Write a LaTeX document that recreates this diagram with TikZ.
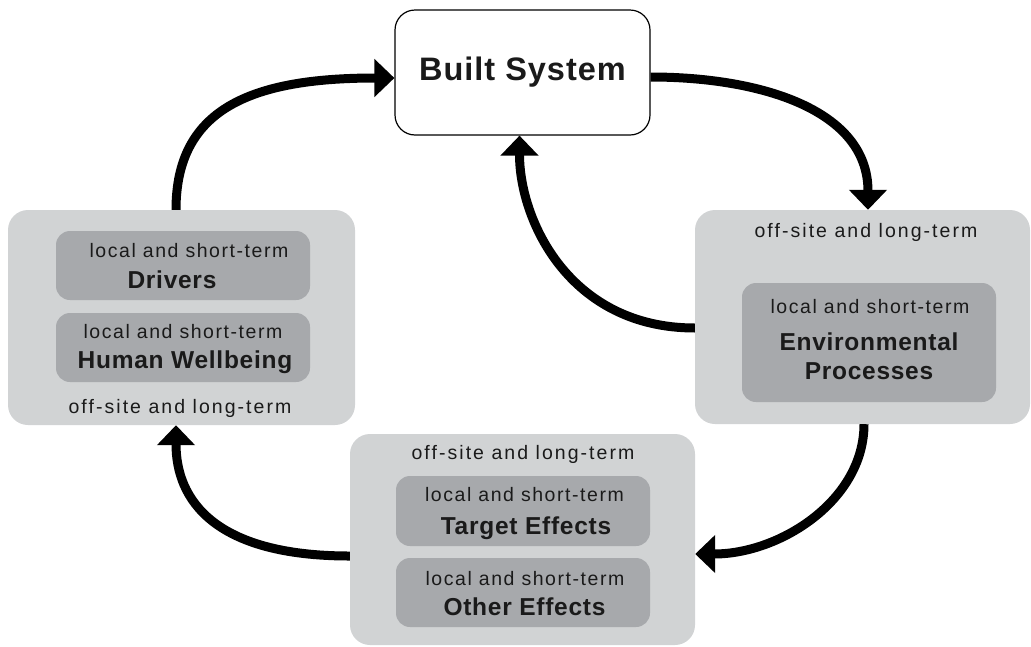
\documentclass[tikz,border=0pt]{standalone}
\usepackage{fontspec}
\setmainfont{Liberation Sans}
\newfontfamily\localfont[LetterSpace=8]{Liberation Sans}
\newfontfamily\offsitefont[LetterSpace=10.5]{Liberation Sans}
\newfontfamily\titlefont[LetterSpace=3]{Liberation Sans}
\newfontfamily\systemfont[LetterSpace=3]{Liberation Sans}
\usetikzlibrary{arrows.meta}
\definecolor{outergray}{RGB}{209,211,212}
\definecolor{innergray}{RGB}{167,169,172}
\definecolor{inktext}{RGB}{26,26,26}
\tikzset{
    outerbox/.style={fill=outergray, rounded corners=20pt, inner sep=0pt},
    innerbox/.style={fill=innergray, rounded corners=14pt, inner sep=0pt},
    cyclearrow/.style={line width=9pt, -{Triangle[width=37pt,length=20pt]}},
    locallabel/.style={anchor=base, inner sep=0pt, text=inktext,
        font=\localfont\fontsize{19.5}{23}\selectfont},
    offsitelabel/.style={anchor=base, inner sep=0pt, text=inktext,
        font=\offsitefont\fontsize{19.5}{23}\selectfont},
    titlelabel/.style={anchor=base, inner sep=0pt, text=inktext,
        font=\titlefont\bfseries\fontsize{24.5}{29}\selectfont}
}
\newcommand{\grayBox}[6] {
	\node[#2, minimum width={(#5-#3)*1pt}, minimum height={(#6-#4)*1pt}] (#1) at ({(#3+#5)/2},{(#4+#6)/2}) {};
}
\newcommand{\localTitle}[6] {
	\node[locallabel] (#1l) at (#2,#3) {local and short-term};
	\node[titlelabel] (#1t) at (#4,#5) {#6};
}

\begin{document}
\begin{tikzpicture}[x=1pt,y=-1pt]
		\useasboundingbox (0,0) rectangle (1031,646);

		% Outer (off-site and long-term) boxes
		\grayBox{drvout}{outerbox}{8}{210}{355}{425}
		\grayBox{envout}{outerbox}{695}{210}{1030}{424}
		\grayBox{effout}{outerbox}{350}{434}{695}{645}

		% Inner (local and short-term) boxes
		\grayBox{drv}{innerbox}{56}{231}{310}{300}
		\grayBox{hwb}{innerbox}{56}{313}{310}{382}
		\grayBox{env}{innerbox}{742}{283}{996}{402}
		\grayBox{tgt}{innerbox}{396}{476}{650}{546}
		\grayBox{oth}{innerbox}{396}{558}{650}{627}

		\node[draw, line width=1.2pt, fill=white, rounded corners=20pt, inner sep=0pt,
			minimum width=255pt, minimum height=125pt, text=inktext,
			font=\systemfont\bfseries\fontsize{32.5}{39}\selectfont] (bs) at (522.5,72.5) {Built System};

		% Cycle
		\draw[cyclearrow] ([xshift=-5.5pt]drvout.north) .. controls +(0,-100) and +(-145,0) .. ([yshift=-5.5pt]bs.west);
		\draw[cyclearrow] ([yshift=-4.5pt]bs.east) .. controls +(110,0) and +(0,-100) .. ([xshift=5.5pt]envout.north);
		\draw[cyclearrow] ([yshift=-11pt]envout.west) .. controls +(-125,0) and +(0,85) .. ([xshift=-3pt]bs.south);
		\draw[cyclearrow] ([xshift=1.5pt]envout.south) .. controls +(0,76) and +(85,0) .. ([yshift=-14.5pt]effout.east);
		\draw[cyclearrow] ([yshift=-16.5pt]effout.west) .. controls +(-135,0) and +(0,75) .. ([xshift=-5.5pt]drvout.south);

		% Labels
		\localTitle{drvtxt}{189}{257}{172}{288}{Drivers}
		\localTitle{hwbtxt}{183}{338}{185}{368}{Human Wellbeing}
		\node[offsitelabel] (drvoff) at (180,413) {off-site and long-term};

		\node[offsitelabel] (envoff) at (866,237) {off-site and long-term};
		\localTitle{envtxt}{870}{313}{869}{350}{Environmental}
		\node[titlelabel] (envtxt2) at (869,379) {Processes};

		\node[offsitelabel] (effoff) at (523,459) {off-site and long-term};
		\localTitle{tgttxt}{524.5}{501}{526}{534}{Target Effects}
		\localTitle{othtxt}{525}{585}{524.5}{615}{Other Effects}

	\end{tikzpicture}
\end{document}
